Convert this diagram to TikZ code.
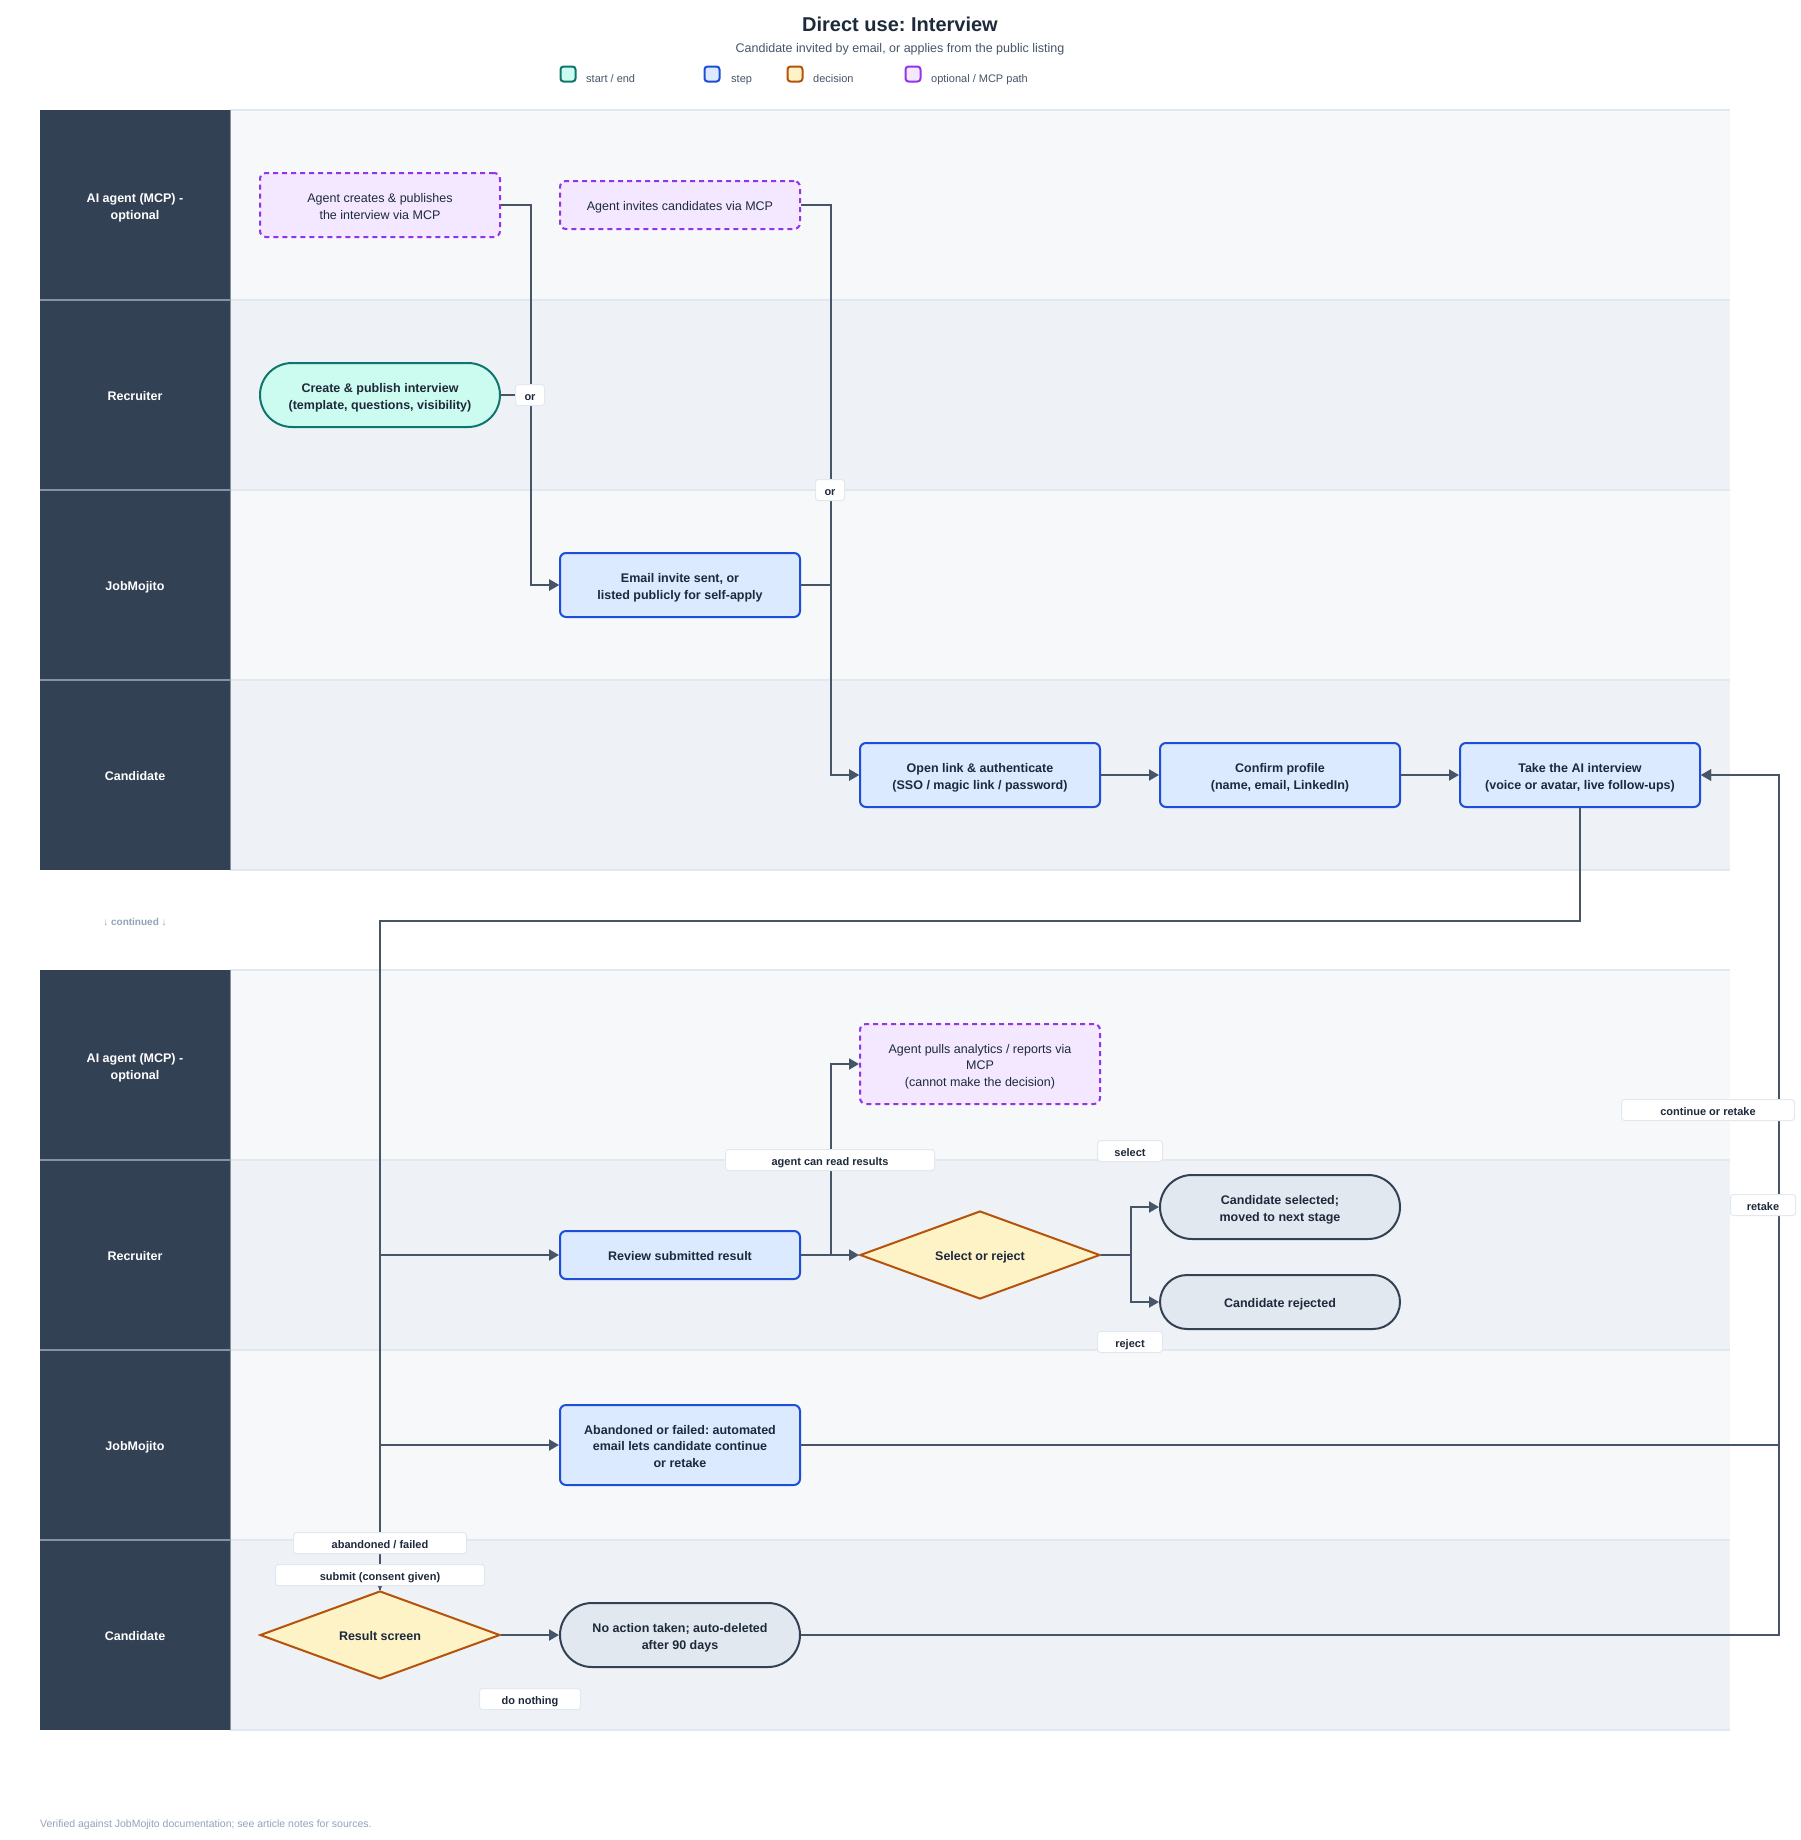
\documentclass[tikz,border=0pt]{standalone}
\usepackage{fontspec}
\setmainfont{Liberation Sans}
\frenchspacing
\usetikzlibrary{arrows.meta,shapes.geometric,shapes.misc}
\definecolor{ink}{HTML}{1E293B}
\definecolor{muted}{HTML}{475569}
\definecolor{faint}{HTML}{94A3B8}
\definecolor{laneA}{HTML}{F7F8FA}
\definecolor{laneB}{HTML}{EEF1F6}
\definecolor{laneline}{HTML}{E2E8F0}
\definecolor{lanehead}{HTML}{334155}
\definecolor{headline}{HTML}{8792A2}
\definecolor{connc}{HTML}{475569}
\definecolor{startfill}{HTML}{CCFBEF}
\definecolor{startdraw}{HTML}{0F766E}
\definecolor{stepfill}{HTML}{DBEAFE}
\definecolor{stepdraw}{HTML}{1D4ED8}
\definecolor{decfill}{HTML}{FEF3C7}
\definecolor{decdraw}{HTML}{B45309}
\definecolor{optfill}{HTML}{F3E8FF}
\definecolor{optdraw}{HTML}{9333EA}
\definecolor{endfill}{HTML}{E2E8F0}
\definecolor{enddraw}{HTML}{334155}
\begin{document}
\begin{tikzpicture}[x=1pt,y=-1pt,
  oneline/.style={text height=13pt, text depth=1.5pt},
  twolines/.style={text height=29.5pt, text depth=1.5pt},
  threelines/.style={text height=46pt, text depth=1.5pt},
  nodefont/.style={font=\fontsize{12.5}{16.5}\selectfont\bfseries, text=ink, align=center},
  stepbox/.style={nodefont, draw=stepdraw, fill=stepfill, line width=2pt, rounded corners=6pt, minimum width=240pt, inner sep=0pt},
  startbox/.style={nodefont, rounded rectangle, draw=startdraw, fill=startfill, line width=2pt, minimum width=240pt, inner sep=0pt},
  endbox/.style={nodefont, rounded rectangle, draw=enddraw, fill=endfill, line width=2pt, minimum width=240pt, inner sep=0pt},
  optbox/.style={font=\fontsize{12.5}{16.5}\selectfont, text=ink, align=center, draw=optdraw, fill=optfill, line width=2pt, dash pattern=on 5pt off 4pt, rounded corners=6pt, minimum width=240pt, inner sep=0pt},
  decbox/.style={nodefont, oneline, diamond, aspect=2.727, draw=decdraw, fill=decfill, line width=2pt, minimum width=240pt, minimum height=88pt, inner sep=0pt},
  lanelbl/.style={font=\fontsize{12.5}{16.5}\selectfont\bfseries, text=white, align=center},
  lbl/.style={fill=white, draw=laneline, line width=1pt, rounded corners=3pt, minimum height=21pt, inner sep=0pt, font=\fontsize{11}{13}\selectfont\bfseries, text=ink, text height=11.5pt, text depth=1.2pt},
  conn/.style={draw=connc, line width=2pt, -{Triangle[length=10pt,width=11pt]}},
  legbox/.style={line width=2pt, rounded corners=3pt, minimum width=15pt, minimum height=15pt, inner sep=0pt},
  legtxt/.style={font=\fontsize{11}{13}\selectfont, text=muted, anchor=west, inner sep=0pt, text height=10.5pt, text depth=1.2pt}
]
\useasboundingbox (0,0) rectangle (1800,1840);
\fill[white] (0,0) rectangle (1800,1840);

% title and legend
\node[font=\fontsize{20}{24}\selectfont\bfseries, text=ink] (title) at (900,24) {Direct use: Interview};
\node[font=\fontsize{12.5}{15}\selectfont, text=muted] (subtitle) at (900,49) {Candidate invited by email, or applies from the public listing};
\node[legbox, draw=startdraw, fill=startfill] (lg1) at (568,74) {};
\node[legtxt] (lt1) at (586,78) {start / end};
\node[legbox, draw=stepdraw, fill=stepfill] (lg2) at (712,74) {};
\node[legtxt] (lt2) at (731,78) {step};
\node[legbox, draw=decdraw, fill=decfill] (lg3) at (795,74) {};
\node[legtxt] (lt3) at (813,78) {decision};
\node[legbox, draw=optdraw, fill=optfill] (lg4) at (913,74) {};
\node[legtxt] (lt4) at (931,78) {optional / MCP path};

% lanes
\foreach \by in {110,970}{
  \foreach \i/\col in {0/laneA,1/laneB,2/laneA,3/laneB}{
    \fill[\col] (230,\by+190*\i) rectangle (1730,\by+190*\i+190);
  }
  \fill[lanehead] (40,\by) rectangle (230,\by+760);
  \foreach \i in {0,...,4} \draw[laneline, line width=2pt] (230,\by+190*\i) -- (1730,\by+190*\i);
  \foreach \i in {1,2,3} \draw[headline, line width=2pt] (40,\by+190*\i) -- (230,\by+190*\i);
  \draw[headline, line width=1pt] (230,\by) -- (230,\by+760);
}
\node[lanelbl, twolines] (L1) at (135,205) {AI agent (MCP) -\\optional};
\node[lanelbl, oneline] (L2) at (135,395) {Recruiter};
\node[lanelbl, oneline] (L3) at (135,585) {JobMojito};
\node[lanelbl, oneline] (L4) at (135,775) {Candidate};
\node[lanelbl, twolines] (L5) at (135,1065) {AI agent (MCP) -\\optional};
\node[lanelbl, oneline] (L6) at (135,1255) {Recruiter};
\node[lanelbl, oneline] (L7) at (135,1445) {JobMojito};
\node[lanelbl, oneline] (L8) at (135,1635) {Candidate};
\node[font=\fontsize{10}{12}\selectfont\bfseries, text=faint] (cont) at (135,922) {↓ continued ↓};

% nodes
\node[optbox, twolines, minimum height=64pt] (a1) at (380,205) {Agent creates \& publishes\\the interview via MCP};
\node[optbox, oneline, minimum height=48pt] (a2) at (680,205) {Agent invites candidates via MCP};
\node[startbox, twolines, minimum height=64pt] (r1) at (380,395) {Create \& publish interview\\(template, questions, visibility)};
\node[stepbox, twolines, minimum height=64pt] (j1) at (680,585) {Email invite sent, or\\listed publicly for self-apply};
\node[stepbox, twolines, minimum height=64pt] (c1) at (980,775) {Open link \& authenticate\\(SSO / magic link / password)};
\node[stepbox, twolines, minimum height=64pt] (c2) at (1280,775) {Confirm profile\\(name, email, LinkedIn)};
\node[stepbox, twolines, minimum height=64pt] (c3) at (1580,775) {Take the AI interview\\(voice or avatar, live follow-ups)};
\node[optbox, threelines, minimum height=80pt] (a3) at (980,1064) {Agent pulls analytics / reports via\\MCP\\(cannot make the decision)};
\node[stepbox, oneline, minimum height=48pt] (r2) at (680,1255) {Review submitted result};
\node[decbox] (d1) at (980,1255) {Select or reject};
\node[endbox, twolines, minimum height=64pt] (e1) at (1280,1207) {Candidate selected;\\moved to next stage};
\node[endbox, oneline, minimum height=54pt] (e2) at (1280,1302) {Candidate rejected};
\node[stepbox, threelines, minimum height=80pt] (j2) at (680,1445) {Abandoned or failed: automated\\email lets candidate continue\\or retake};
\node[decbox] (d2) at (380,1635) {Result screen};
\node[endbox, twolines, minimum height=64pt] (e3) at (680,1635) {No action taken; auto-deleted\\after 90 days};

% connectors
\draw[conn] (a1.east) -- ++(30,0) |- (j1.west);
\draw[conn] (r1.east) -- ++(30,0) |- (j1.west);
\draw[conn] (a2.east) -- ++(30,0) |- (c1.west);
\draw[conn] (j1.east) -- ++(30,0) |- (c1.west);
\draw[conn] (c1.east) -- (c2.west);
\draw[conn] (c2.east) -- (c3.west);
\draw[conn] (c3.south) -- ++(0,113) -| (d2.north);
\draw[conn] (d2.north) |- (r2.west);
\draw[conn] (d2.north) |- (j2.west);
\draw[conn] (d2.east) -- (e3.west);
\draw[conn] (r2.east) -- (d1.west);
\draw[conn] (r2.east) -- ++(30,0) |- (a3.west);
\draw[conn] (d1.east) -- ++(30,0) |- (e1.west);
\draw[conn] (d1.east) -- ++(30,0) |- (e2.west);
\draw[conn] (j2.east) -- ++(978,0) |- (c3.east);
\draw[conn] (e3.east) -- ++(978,0) |- (c3.east);

% connector labels
\node[lbl, minimum width=29pt] (l1) at (530,395) {or};
\node[lbl, minimum width=29pt] (l2) at (830,490) {or};
\node[lbl, minimum width=209pt] (l3) at (830,1160) {agent can read results};
\node[lbl, minimum width=65pt] (l4) at (1130,1151) {select};
\node[lbl, minimum width=65pt] (l5) at (1130,1342) {reject};
\node[lbl, minimum width=173pt] (l6) at (1708,1110) {continue or retake};
\node[lbl, minimum width=65pt] (l7) at (1763,1205) {retake};
\node[lbl, minimum width=173pt] (l8) at (380,1543) {abandoned / failed};
\node[lbl, minimum width=209pt] (l9) at (380,1575) {submit (consent given)};
\node[lbl, minimum width=101pt] (l10) at (530,1699) {do nothing};

% footer
\node[font=\fontsize{10.5}{12}\selectfont, text=faint, anchor=west, inner sep=0pt] (foot) at (40,1825) {Verified against JobMojito documentation; see article notes for sources.};
\end{tikzpicture}
\end{document}
